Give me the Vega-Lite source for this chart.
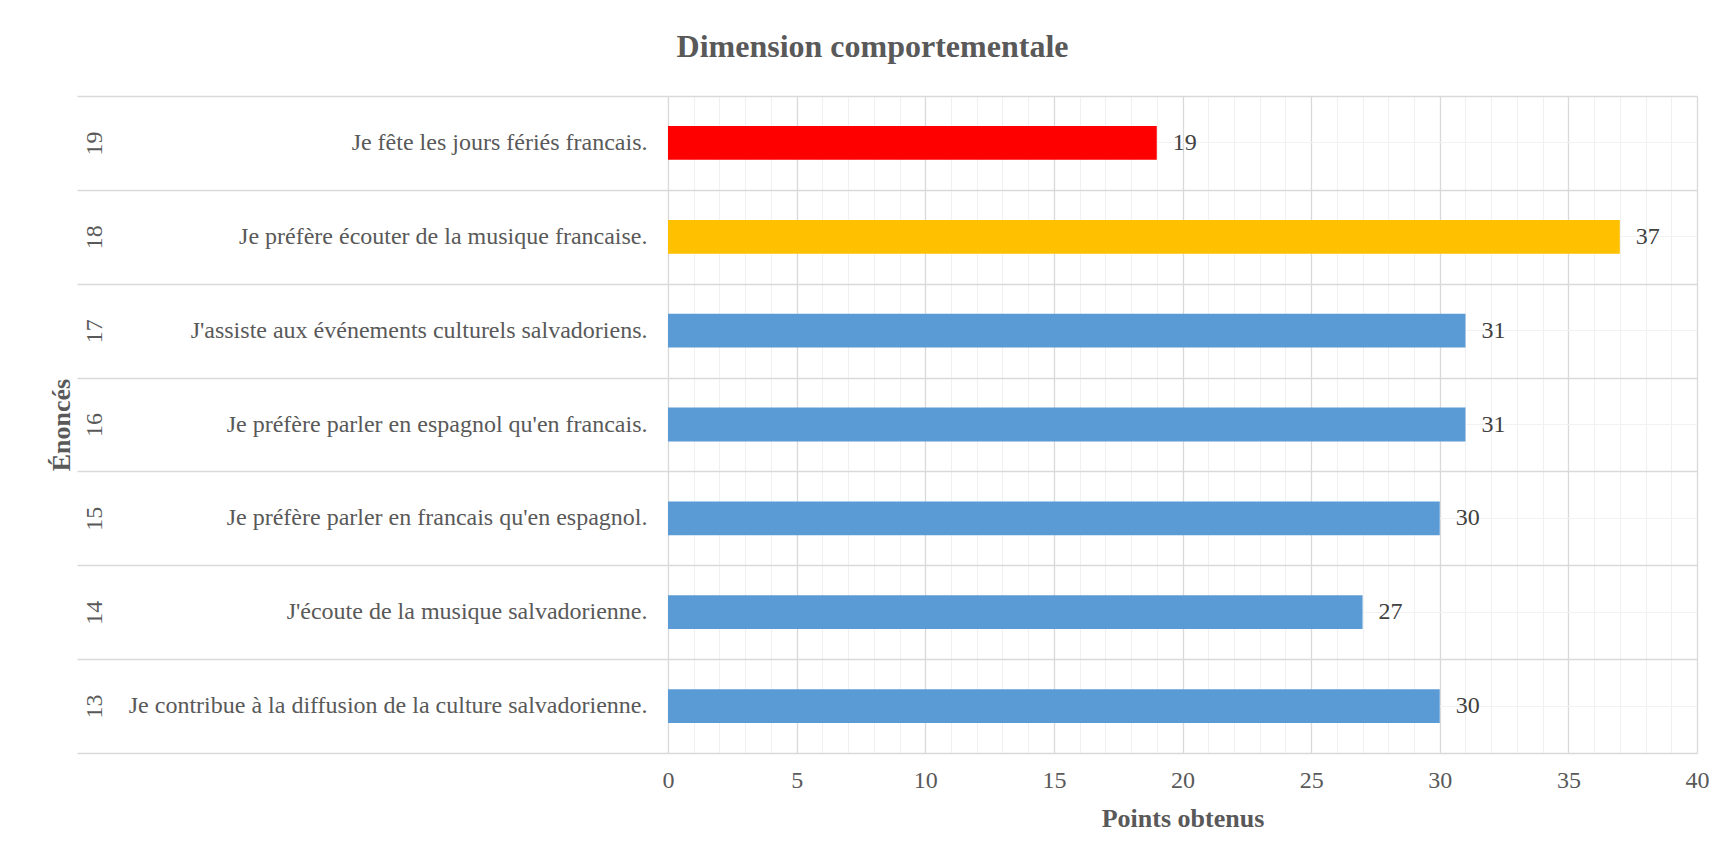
{
  "$schema": "https://vega.github.io/schema/vega-lite/v6.json",
  "autosize": "none",
  "padding": {"left": 668, "top": 96, "right": 37, "bottom": 107},
  "width": 1029,
  "height": 657,
  "background": "white",
  "title": {
    "text": "Dimension comportementale",
    "font": "Liberation Serif",
    "fontSize": 32,
    "fontWeight": "bold",
    "color": "#595959",
    "anchor": "middle",
    "frame": "bounds",
    "dx": -6,
    "offset": 31
  },
  "data": {
    "values": [
      {"num": 19, "enonce": "Je fête les jours fériés francais.", "points": 19},
      {"num": 18, "enonce": "Je préfère écouter de la musique francaise.", "points": 37},
      {"num": 17, "enonce": "J'assiste aux événements culturels salvadoriens.", "points": 31},
      {"num": 16, "enonce": "Je préfère parler en espagnol qu'en francais.", "points": 31},
      {"num": 15, "enonce": "Je préfère parler en francais qu'en espagnol.", "points": 30},
      {"num": 14, "enonce": "J'écoute de la musique salvadorienne.", "points": 27},
      {"num": 13, "enonce": "Je contribue à la diffusion de la culture salvadorienne.", "points": 30}
    ]
  },
  "config": {
    "view": {"stroke": null},
    "font": "Liberation Serif",
    "axis": {"labelFont": "Liberation Serif", "titleFont": "Liberation Serif"}
  },
  "layer": [
    {
      "mark": {"type": "bar", "height": {"band": 0.36}},
      "encoding": {
        "y": {
          "field": "enonce",
          "type": "nominal",
          "sort": {"field": "num", "op": "max", "order": "descending"},
          "scale": {"paddingInner": 0, "paddingOuter": 0},
          "axis": {
            "orient": "left",
            "tickBand": "center",
            "grid": true,
            "gridColor": "#f2f2f2",
            "gridWidth": 1,
            "ticks": false,
            "domain": false,
            "labelFontSize": 24,
            "labelColor": "#595959",
            "labelPadding": 21,
            "labelLimit": 800,
            "title": null
          }
        },
        "x": {
          "field": "points",
          "type": "quantitative",
          "scale": {"domain": [0, 40], "nice": false},
          "axis": {
            "values": [0, 5, 10, 15, 20, 25, 30, 35, 40],
            "grid": true,
            "gridColor": "#d9d9d9",
            "gridWidth": 1.3,
            "ticks": false,
            "domain": false,
            "labelFontSize": 24,
            "labelColor": "#595959",
            "labelPadding": 15,
            "labelFlush": false,
            "title": "Points obtenus",
            "titleFontSize": 26,
            "titleFontWeight": "bold",
            "titleColor": "#595959",
            "titlePadding": 13
          }
        },
        "color": {
          "field": "num",
          "type": "nominal",
          "scale": {
            "domain": [19, 18, 17, 16, 15, 14, 13],
            "range": ["#ff0000", "#ffc000", "#5b9bd5", "#5b9bd5", "#5b9bd5", "#5b9bd5", "#5b9bd5"]
          },
          "legend": null
        }
      }
    },
    {
      "mark": {
        "type": "text",
        "align": "left",
        "baseline": "middle",
        "dx": 16,
        "fontSize": 24,
        "color": "#404040",
        "font": "Liberation Serif"
      },
      "encoding": {
        "y": {
          "field": "num",
          "type": "ordinal",
          "sort": "descending",
          "scale": {"paddingInner": 0, "paddingOuter": 0},
          "axis": {
            "orient": "left",
            "tickBand": "extent",
            "grid": true,
            "gridColor": "#d9d9d9",
            "gridWidth": 1.3,
            "ticks": true,
            "tickSize": 591,
            "tickColor": "#d9d9d9",
            "tickWidth": 1.3,
            "domain": false,
            "labelAngle": -90,
            "labelAlign": "center",
            "labelBaseline": "middle",
            "labelPadding": -17,
            "labelFontSize": 24,
            "labelColor": "#595959",
            "title": "Énoncés",
            "titleFontSize": 26,
            "titleFontWeight": "bold",
            "titleColor": "#595959",
            "titleAngle": -90,
            "titleBaseline": "middle",
            "titleAlign": "center",
            "titleX": -607
          }
        },
        "x": {
          "field": "points",
          "type": "quantitative",
          "scale": {"domain": [0, 40], "nice": false},
          "axis": {
            "orient": "bottom",
            "values": [1, 2, 3, 4, 6, 7, 8, 9, 11, 12, 13, 14, 16, 17, 18, 19, 21, 22, 23, 24, 26, 27, 28, 29, 31, 32, 33, 34, 36, 37, 38, 39],
            "grid": true,
            "gridColor": "#f0f0f0",
            "gridWidth": 1,
            "ticks": false,
            "domain": false,
            "labels": false,
            "title": null
          }
        },
        "text": {"field": "points", "type": "quantitative"}
      }
    }
  ],
  "resolve": {
    "scale": {"x": "independent", "y": "independent"},
    "axis": {"x": "independent", "y": "independent"}
  }
}
